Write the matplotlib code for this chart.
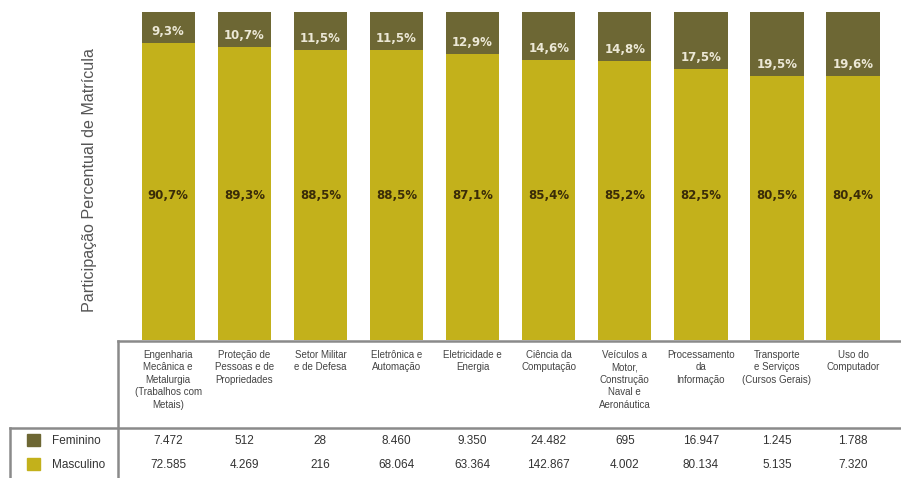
import numpy as np
import matplotlib.pyplot as plt
from matplotlib.transforms import blended_transform_factory
from matplotlib.lines import Line2D
from matplotlib.patches import Rectangle

plt.rcParams['font.family'] = ['Liberation Sans', 'DejaVu Sans']

# dados
cursos = ['Engenharia\nMecânica e\nMetalurgia\n(Trabalhos com\nMetais)',
          'Proteção de\nPessoas e de\nPropriedades',
          'Setor Militar\ne de Defesa',
          'Eletrônica e\nAutomação',
          'Eletricidade e\nEnergia',
          'Ciência da\nComputação',
          'Veículos a\nMotor,\nConstrução\nNaval e\nAeronáutica',
          'Processamento\nda\nInformação',
          'Transporte\ne Serviços\n(Cursos Gerais)',
          'Uso do\nComputador']
pct_fem = [9.3, 10.7, 11.5, 11.5, 12.9, 14.6, 14.8, 17.5, 19.5, 19.6]
pct_masc = [90.7, 89.3, 88.5, 88.5, 87.1, 85.4, 85.2, 82.5, 80.5, 80.4]
n_fem = ['7.472', '512', '28', '8.460', '9.350', '24.482', '695', '16.947', '1.245', '1.788']
n_masc = ['72.585', '4.269', '216', '68.064', '63.364', '142.867', '4.002', '80.134', '5.135', '7.320']

cor_fem = '#6d6734'
cor_masc = '#c3b11b'

fig = plt.figure(figsize=(9.01, 4.78), dpi=100)
W, H = 901, 478
ax = fig.add_axes([118 / W, 1 - 340 / H, 1 - 118 / W, (340 - 12) / H])

x = np.arange(len(cursos))
ax.bar(x, pct_masc, width=0.70, color=cor_masc)
ax.bar(x, pct_fem, width=0.70, bottom=pct_masc, color=cor_fem)

for i in x:
    ax.text(i, 44, f'{pct_masc[i]:.1f}%'.replace('.', ','), ha='center', va='center',
            fontsize=8.5, fontweight='bold', color='#3a2c08', family='DejaVu Sans')
    ax.text(i, pct_masc[i] + 3.5, f'{pct_fem[i]:.1f}%'.replace('.', ','), ha='center', va='center',
            fontsize=8.5, fontweight='bold', color='#ece8d6', family='DejaVu Sans')

ax.set_xlim(-0.66, 9.63)
ax.set_ylim(0, 100)
ax.axis('off')

fig.text(90 / W, 1 - 180 / H, 'Participação Percentual de Matrícula', rotation=90,
         ha='center', va='center', fontsize=11.6, color='#555555')

# tabela
tr = blended_transform_factory(ax.transData, fig.transFigure)
for i in x:
    fig.text(i, 1 - 350 / H, cursos[i], transform=tr, ha='center', va='top',
             fontsize=7, color='#444444', linespacing=1.3)
    fig.text(i, 1 - 441 / H, n_fem[i], transform=tr, ha='center', va='center',
             fontsize=8.5, color='#333333')
    fig.text(i, 1 - 465 / H, n_masc[i], transform=tr, ha='center', va='center',
             fontsize=8.5, color='#333333')

lc = '#8a8a8a'
fig.add_artist(Line2D([118 / W, 1], [1 - 341 / H] * 2, color=lc, lw=1.8))
fig.add_artist(Line2D([118 / W] * 2, [1 - 341 / H, 0], color=lc, lw=1.8))
fig.add_artist(Line2D([10 / W, 1], [1 - 428 / H] * 2, color=lc, lw=1.8))
fig.add_artist(Line2D([10 / W] * 2, [1 - 428 / H, 0], color=lc, lw=1.8))

fig.add_artist(Rectangle((27 / W, 1 - 446 / H), 13 / W, 12 / H, color=cor_fem))
fig.add_artist(Rectangle((27 / W, 1 - 470 / H), 13 / W, 12 / H, color=cor_masc))
fig.text(52 / W, 1 - 441 / H, 'Feminino', ha='left', va='center', fontsize=8.5, color='#333333')
fig.text(52 / W, 1 - 465 / H, 'Masculino', ha='left', va='center', fontsize=8.5, color='#333333')

fig.savefig('out.png', dpi=100)
